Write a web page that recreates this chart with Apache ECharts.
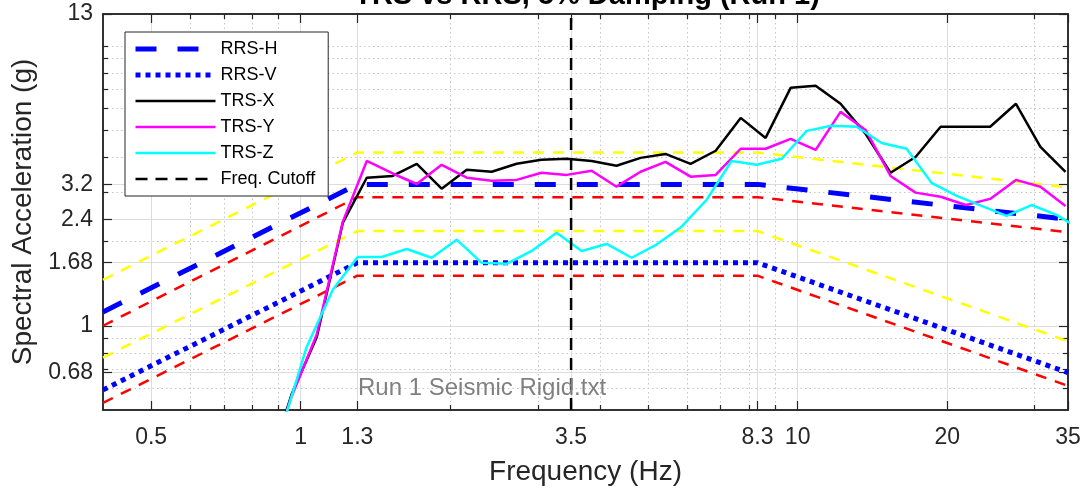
<!DOCTYPE html>
<html>
<head>
<meta charset="utf-8">
<script src="https://cdn.jsdelivr.net/npm/echarts@6/dist/echarts.min.js"></script>
<style>
  html, body { margin: 0; padding: 0; background: #fff; }
  #chart { width: 1087px; height: 493px; }
</style>
</head>
<body>
<div id="chart"></div>
<script>
// Axis ranges and tick positions (log-log plot)
const xRange = [0.4, 35];
const yRange = [0.5, 13];
const xMajorTicks = [0.5, 1, 1.3, 3.5, 8.3, 10, 20, 35];
const xMinorTicks = [0.6, 0.7, 0.8, 0.9, 2, 3, 4, 5, 6, 7, 8, 9, 30];
const yMajorTicks = [0.68, 1, 1.68, 2.4, 3.2, 13];
const yMinorTicks = [0.6, 0.7, 0.8, 0.9, 2, 3, 4, 5, 6, 7, 8, 9, 10];

// Required response spectra, [frequency Hz, acceleration g]
const rrsH = [[0.4, 1.12], [1.3, 3.2], [8.3, 3.2], [35, 2.4]];
const rrsV = [[0.4, 0.59], [1.3, 1.68], [8.3, 1.68], [35, 0.68]];
// Tolerance band around the RRS curves
const rrsHLower = [[0.4, 1.0], [1.3, 2.88], [8.3, 2.88], [35, 2.16]];
const rrsHUpper = [[0.4, 1.46], [1.3, 4.16], [8.3, 4.16], [35, 3.12]];
const rrsVLower = [[0.4, 0.53], [1.3, 1.51], [8.3, 1.51], [35, 0.61]];
const rrsVUpper = [[0.4, 0.77], [1.3, 2.18], [8.3, 2.18], [35, 0.88]];

// Test response spectra
const freqXY = [0.854, 0.959, 1.077, 1.215, 1.358, 1.531, 1.712, 1.921, 2.158, 2.423,
  2.72, 3.05, 3.43, 3.85, 4.32, 4.83, 5.42, 6.09, 6.84, 7.68,
  8.62, 9.68, 10.87, 12.2, 13.7, 15.38, 17.27, 19.4, 21.8, 24.4,
  27.5, 30.8, 34.6];
const trsX = [0.30, 0.57, 0.91, 2.33, 3.38, 3.43, 3.79, 3.09, 3.61, 3.55,
  3.79, 3.92, 3.95, 3.88, 3.73, 3.98, 4.11, 3.79, 4.22, 5.53,
  4.69, 7.08, 7.2, 6.21, 4.85, 3.52, 4.01, 5.14, 5.14, 5.14,
  6.21, 4.36, 3.55];
const trsY = [0.30, 0.56, 0.93, 2.35, 3.88, 3.50, 3.21, 3.76, 3.38, 3.30,
  3.32, 3.52, 3.46, 3.58, 3.14, 3.55, 3.85, 3.41, 3.46, 4.29,
  4.29, 4.65, 4.25, 5.81, 5.01, 3.43, 2.99, 2.89, 2.70, 2.84,
  3.32, 3.14, 2.68];
const freqZ = [0.916, 1.028, 1.16, 1.302, 1.455, 1.634, 1.834, 2.06, 2.31, 2.597,
  2.916, 3.273, 3.675, 4.128, 4.634, 5.2, 5.84, 6.56, 7.36, 8.27,
  9.29, 10.43, 11.7, 13.15, 14.76, 16.57, 18.6, 20.9, 23.45, 26.33,
  29.56, 33.19, 37.27];
const trsZ = [0.43, 0.84, 1.345, 1.76, 1.76, 1.88, 1.75, 2.03, 1.68, 1.665,
  1.85, 2.15, 1.85, 1.96, 1.75, 1.95, 2.26, 2.82, 3.88, 3.76,
  3.95, 4.97, 5.18, 5.14, 4.50, 4.29, 3.24, 2.91, 2.68, 2.47,
  2.70, 2.49, 2.2];

const cutoffFreq = 3.5;
const legendNames = ['RRS-H', 'RRS-V', 'TRS-X', 'TRS-Y', 'TRS-Z', 'Freq. Cutoff'];

const FONT = '"Liberation Sans", Arial, Helvetica, sans-serif';
const AX = '#262626';
const fmt = v => String(+Number(v).toPrecision(4));
const pairs = (xs, ys) => xs.map((x, i) => [x, ys[i]]);

function makeAxis(range, pos, ticks, opts) {
  return Object.assign({
    type: 'log', logBase: 10, min: range[0], max: range[1], position: pos,
    axisLine: { show: true, onZero: false, lineStyle: { color: AX, width: 1.5 } },
    axisTick: { show: true, inside: true, length: opts.tickLen, customValues: ticks,
                lineStyle: { color: AX, width: 1.2 } },
    axisLabel: { show: false },
    splitLine: { show: false },
    minorTick: { show: false },
    minorSplitLine: { show: false }
  }, opts.extra || {});
}

const majorGrid = { show: true, lineStyle: { color: '#dcdcdc', width: 1 } };
const minorGrid = { show: true, lineStyle: { color: '#c4c4c4', width: 1, type: [1.5, 3] } };
const tickLabel = (ticks, margin) => ({
  show: true, customValues: ticks, margin: margin, color: AX,
  fontSize: 23, fontFamily: FONT, formatter: fmt
});

const xAxes = [
  makeAxis(xRange, 'bottom', xMajorTicks, { tickLen: 9, extra: {
    axisLabel: tickLabel(xMajorTicks, 16),
    splitLine: majorGrid,
    name: 'Frequency (Hz)', nameLocation: 'middle', nameGap: 48,
    nameTextStyle: { color: AX, fontSize: 28, fontFamily: FONT }
  } }),
  makeAxis(xRange, 'top', xMajorTicks, { tickLen: 9 }),
  makeAxis(xRange, 'bottom', xMinorTicks, { tickLen: 5, extra: { splitLine: minorGrid } }),
  makeAxis(xRange, 'top', xMinorTicks, { tickLen: 5 })
];
const yAxes = [
  makeAxis(yRange, 'left', yMajorTicks, { tickLen: 9, extra: {
    axisLabel: tickLabel(yMajorTicks, 10),
    splitLine: majorGrid,
    name: 'Spectral Acceleration (g)', nameLocation: 'middle', nameGap: 66,
    nameTextStyle: { color: AX, fontSize: 28, fontFamily: FONT }
  } }),
  makeAxis(yRange, 'right', yMajorTicks, { tickLen: 9 }),
  makeAxis(yRange, 'left', yMinorTicks, { tickLen: 5, extra: { splitLine: minorGrid } }),
  makeAxis(yRange, 'right', yMinorTicks, { tickLen: 5 })
];

function line(name, data, color, width, type, z) {
  return {
    name: name, type: 'line', data: data, xAxisIndex: 0, yAxisIndex: 0,
    symbol: 'none', clip: true, z: z, silent: true,
    lineStyle: { color: color, width: width, type: type, cap: 'butt' },
    itemStyle: { color: color }
  };
}

const series = [
  line('RRS-H +', rrsHUpper, '#ffff00', 2.5, [11, 9], 2),
  line('RRS-H -', rrsHLower, '#ff0000', 2.5, [11, 9], 2),
  line('RRS-V +', rrsVUpper, '#ffff00', 2.5, [11, 9], 2),
  line('RRS-V -', rrsVLower, '#ff0000', 2.5, [11, 9], 2),
  line('RRS-H', rrsH, '#0000ff', 5, [21, 21], 3),
  line('RRS-V', rrsV, '#0000ff', 5, [5, 5], 3),
  line('TRS-X', pairs(freqXY, trsX), '#000000', 2.5, 'solid', 4),
  line('TRS-Y', pairs(freqXY, trsY), '#ff00ff', 2.5, 'solid', 4),
  line('TRS-Z', pairs(freqZ, trsZ), '#00ffff', 2.5, 'solid', 4),
  line('Freq. Cutoff', [[cutoffFreq, yRange[0]], [cutoffFreq, yRange[1]]], '#000000', 2.5, [12, 8], 5)
];

// Legend entries keep each series' own line width and dash, without a marker
const legendData = legendNames.map(n => {
  const s = series.find(x => x.name === n);
  return { name: n, itemStyle: { opacity: 0 },
           lineStyle: { width: s.lineStyle.width, type: s.lineStyle.type, color: s.lineStyle.color } };
});

const chart = echarts.init(document.getElementById('chart'), null, { renderer: 'canvas' });
chart.setOption({
  animation: false,
  backgroundColor: '#ffffff',
  grid: { left: 103, right: 19, top: 14, bottom: 83, containLabel: false },
  xAxis: xAxes,
  yAxis: yAxes,
  legend: {
    data: legendData,
    orient: 'vertical', left: 125, top: 32,
    padding: [8, 13, 8, 8],
    itemWidth: 80, itemHeight: 14, itemGap: 8,
    backgroundColor: '#ffffff', borderColor: AX, borderWidth: 1, borderRadius: 0,
    itemStyle: { opacity: 0 },
    textStyle: { color: '#000', fontSize: 18, fontFamily: FONT },
    selectedMode: false
  },
  graphic: [
    { type: 'text', x: 587, y: -4, z: 10,
      style: { text: 'TRS vs RRS, 5% Damping (Run 1)', fill: '#000',
               font: 'bold 29px ' + FONT, textAlign: 'center', textVerticalAlign: 'middle' } },
    { type: 'text', x: 358, y: 388, z: 10,
      style: { text: 'Run 1 Seismic Rigid.txt', fill: '#808080',
               font: '24px ' + FONT, textAlign: 'left', textVerticalAlign: 'middle' } }
  ],
  series: series
});
</script>
</body>
</html>
